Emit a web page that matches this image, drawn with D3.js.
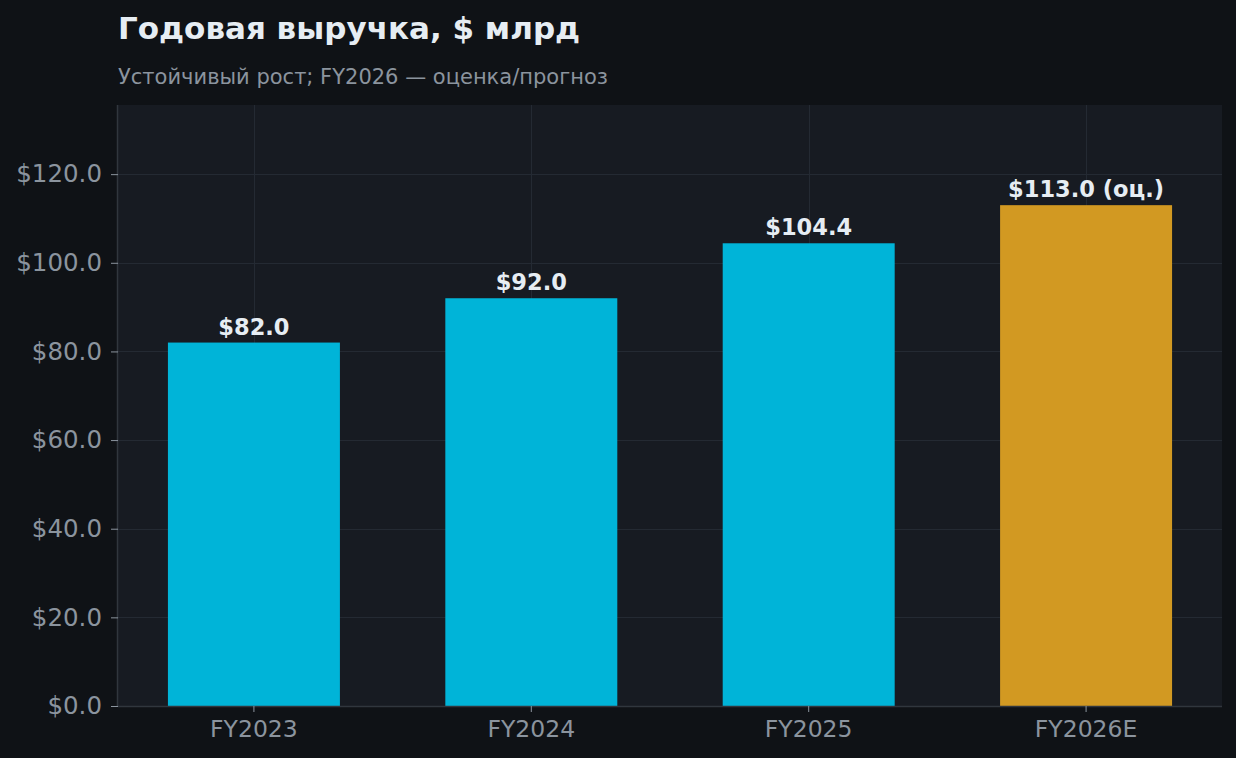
<!DOCTYPE html>
<html>
<head>
<meta charset="utf-8">
<script src="https://cdn.jsdelivr.net/npm/d3@7"></script>
<style>
  html, body { margin: 0; padding: 0; background: #0f1216; }
  svg { display: block; font-family: "DejaVu Sans", sans-serif; }
</style>
</head>
<body>
<div id="chart"></div>
<script>
// data
const categories = ["FY2023", "FY2024", "FY2025", "FY2026E"];
const revenue = [82.0, 92.0, 104.4, 113.0];
const isEstimate = [false, false, false, true];
const yTicks = [0, 20, 40, 60, 80, 100, 120];

const width = 1236, height = 758;
const plot = { left: 118, right: 1222, top: 105, bottom: 706 };

const svg = d3.select("#chart")
  .append("svg")
  .attr("width", width)
  .attr("height", height);

svg.append("rect")
  .attr("width", width)
  .attr("height", height)
  .attr("fill", "#0f1216");

// scales
const xScale = d3.scaleBand()
  .domain(categories)
  .range([plot.left, plot.right])
  .paddingInner(0)
  .paddingOuter(-0.01);

const yScale = d3.scaleLinear()
  .domain([0, d3.max(revenue) * 1.2])
  .range([plot.bottom, plot.top]);

const barWidth = xScale.step() * 0.62;
const cx = (c) => xScale(c) + xScale.bandwidth() / 2;

// plot background
svg.append("rect")
  .attr("x", plot.left)
  .attr("y", plot.top)
  .attr("width", plot.right - plot.left)
  .attr("height", plot.bottom - plot.top)
  .attr("fill", "#171b22");

// grid
const grid = svg.append("g").attr("stroke", "#242a33").attr("stroke-width", 1);
grid.selectAll(".hgrid")
  .data(yTicks)
  .enter()
  .append("line")
  .attr("x1", plot.left)
  .attr("x2", plot.right)
  .attr("y1", (d) => Math.round(yScale(d)) + 0.5)
  .attr("y2", (d) => Math.round(yScale(d)) + 0.5);
grid.selectAll(".vgrid")
  .data(categories)
  .enter()
  .append("line")
  .attr("x1", (d) => Math.round(cx(d)) + 0.5)
  .attr("x2", (d) => Math.round(cx(d)) + 0.5)
  .attr("y1", plot.top)
  .attr("y2", plot.bottom);

// bars
svg.append("g")
  .selectAll("rect")
  .data(revenue)
  .enter()
  .append("rect")
  .attr("x", (d, i) => cx(categories[i]) - barWidth / 2)
  .attr("width", barWidth)
  .attr("y", (d) => yScale(d))
  .attr("height", (d) => yScale(0) - yScale(d))
  .attr("fill", (d, i) => (isEstimate[i] ? "#d29922" : "#00b4d8"));

// value labels
svg.append("g")
  .selectAll("text")
  .data(revenue)
  .enter()
  .append("text")
  .attr("x", (d, i) => cx(categories[i]))
  .attr("y", (d) => yScale(d) - 8)
  .attr("text-anchor", "middle")
  .attr("font-size", 22.5)
  .attr("font-weight", "bold")
  .attr("fill", "#e6edf3")
  .text((d, i) => "$" + d.toFixed(1) + (isEstimate[i] ? " (оц.)" : ""));

// axes
const xAxis = svg.append("g")
  .attr("transform", "translate(0," + plot.bottom + ")")
  .call(d3.axisBottom(xScale).tickSize(6).tickPadding(8));
const yAxis = svg.append("g")
  .attr("transform", "translate(" + plot.left + ",0)")
  .call(d3.axisLeft(yScale).tickValues(yTicks).tickSize(7).tickPadding(9)
    .tickFormat((d) => "$" + d.toFixed(1)));

[xAxis, yAxis].forEach((ax) => {
  ax.select(".domain").attr("stroke", "#30363d").attr("stroke-width", 1.5);
  ax.selectAll(".tick line").attr("stroke", "#8b949e");
  ax.selectAll(".tick text")
    .attr("fill", "#8b949e")
    .attr("font-family", "DejaVu Sans, sans-serif");
});
xAxis.selectAll(".tick text").attr("font-size", 23.5);
yAxis.selectAll(".tick text").attr("font-size", 24.5);
xAxis.select(".domain").attr("d", "M" + plot.left + ",0.5H" + plot.right);
yAxis.select(".domain").attr("d", "M-0.5," + plot.top + "V" + plot.bottom);

// title
svg.append("text")
  .attr("x", 118)
  .attr("y", 39)
  .attr("font-size", 31)
  .attr("font-weight", "bold")
  .attr("fill", "#e6edf3")
  .text("Годовая выручка, $ млрд");

svg.append("text")
  .attr("x", 118)
  .attr("y", 84)
  .attr("font-size", 21)
  .attr("fill", "#8b949e")
  .text("Устойчивый рост; FY2026 — оценка/прогноз");
</script>
</body>
</html>
